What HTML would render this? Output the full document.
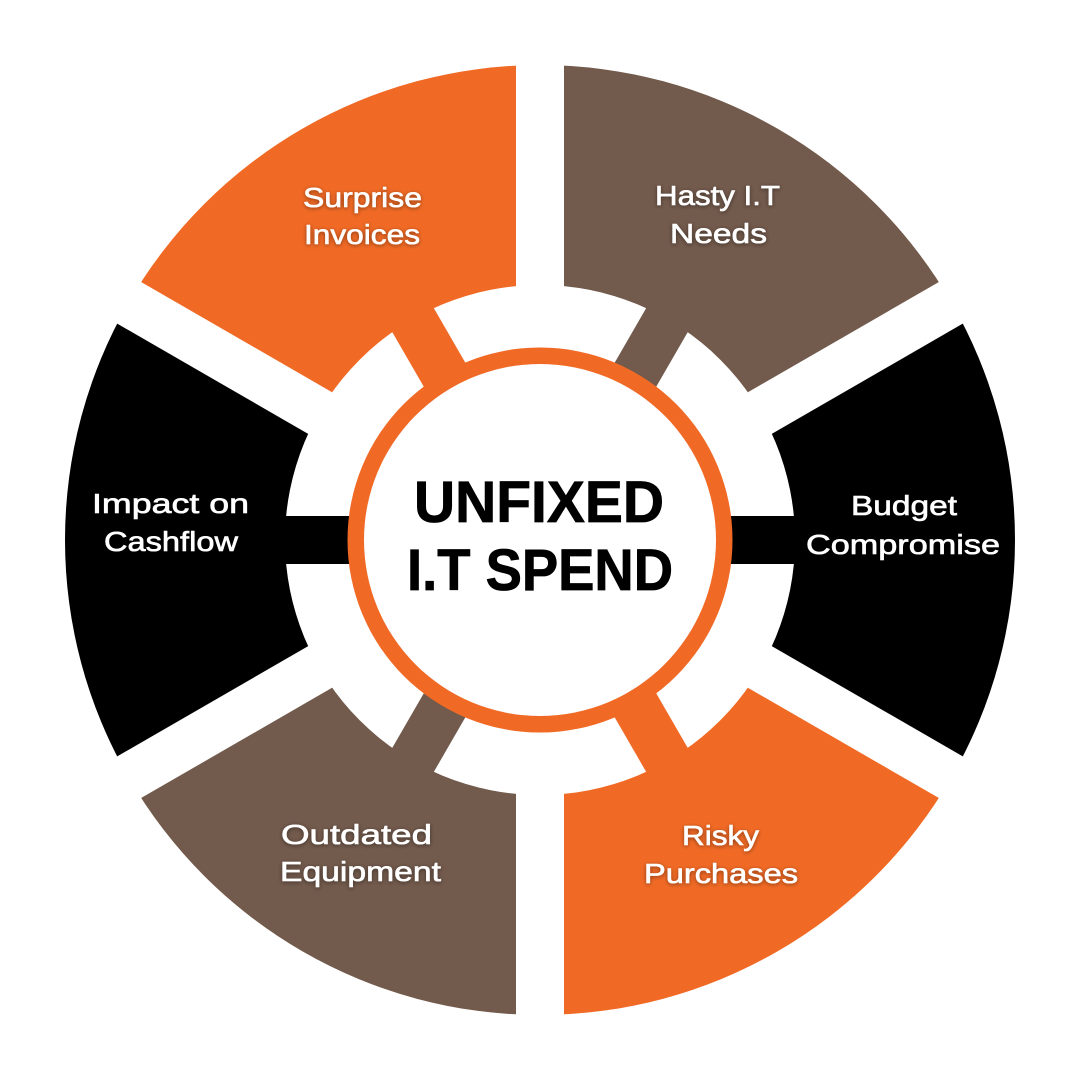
<!DOCTYPE html>
<html>
<head>
<meta charset="utf-8">
<style>
  html, body { margin: 0; padding: 0; background: #ffffff; }
  body { width: 1080px; height: 1080px; overflow: hidden; }
  svg { display: block; }
  .lbl { font-family: "Liberation Sans", "DejaVu Sans", sans-serif; font-size: 28px; fill: #ffffff; stroke: #ffffff; stroke-width: 0.6px; }
  .title { font-family: "Liberation Sans", "DejaVu Sans", sans-serif; font-size: 58px; font-weight: bold; fill: #000000; stroke: #000000; stroke-width: 0.8px; }
</style>
</head>
<body>
<svg width="1080" height="1080" viewBox="0 0 1080 1080" xmlns="http://www.w3.org/2000/svg">
  <defs>
    <filter id="sh" x="-20%" y="-40%" width="140%" height="180%">
      <feDropShadow dx="0" dy="1" stdDeviation="2" flood-color="#000000" flood-opacity="0.45"/>
    </filter>
  </defs>
  <rect width="1080" height="1080" fill="#ffffff"/>

  <!-- wedges -->
  <path d="M540,540 L540,65 A475,475 0 0,1 951.36,302.5 Z" fill="#725A4C"/>
  <path d="M540,540 L951.36,302.5 A475,475 0 0,1 951.36,777.5 Z" fill="#000000"/>
  <path d="M540,540 L951.36,777.5 A475,475 0 0,1 540,1015 Z" fill="#F16A25"/>
  <path d="M540,540 L540,1015 A475,475 0 0,1 128.64,777.5 Z" fill="#725A4C"/>
  <path d="M540,540 L128.64,777.5 A475,475 0 0,1 128.64,302.5 Z" fill="#000000"/>
  <path d="M540,540 L128.64,302.5 A475,475 0 0,1 540,65 Z" fill="#F16A25"/>

  <!-- white gap strips -->
  <g fill="#ffffff">
    <rect x="40" y="516" width="1000" height="48" transform="rotate(90 540 540)"/>
    <rect x="40" y="516" width="1000" height="48" transform="rotate(30 540 540)"/>
    <rect x="40" y="516" width="1000" height="48" transform="rotate(-30 540 540)"/>
  </g>

  <!-- inner white hole -->
  <circle cx="540" cy="540" r="255" fill="#ffffff"/>

  <!-- connector bars -->
  <rect x="278" y="516" width="524" height="48" fill="#000000"/>
  <rect x="278" y="516" width="524" height="48" fill="#725A4C" transform="rotate(-60 540 540)"/>
  <rect x="278" y="516" width="524" height="48" fill="#F16A25" transform="rotate(60 540 540)"/>

  <!-- center ring -->
  <circle cx="540" cy="540" r="192.5" fill="#F16A25"/>
  <circle cx="540" cy="540" r="176" fill="#ffffff"/>

  <!-- title -->
  <text class="title" x="539" y="522" text-anchor="middle" textLength="250" lengthAdjust="spacingAndGlyphs">UNFIXED</text>
  <text class="title" x="540" y="590" text-anchor="middle" textLength="266" lengthAdjust="spacingAndGlyphs">I.T SPEND</text>

  <!-- labels -->
  <g filter="url(#sh)">
    <text class="lbl" x="362.5" y="207" text-anchor="middle" textLength="119" lengthAdjust="spacingAndGlyphs">Surprise</text>
    <text class="lbl" x="362" y="244" text-anchor="middle" textLength="116" lengthAdjust="spacingAndGlyphs">Invoices</text>

    <text class="lbl" x="717.5" y="205" text-anchor="middle" textLength="125" lengthAdjust="spacingAndGlyphs">Hasty I.T</text>
    <text class="lbl" x="718.5" y="243" text-anchor="middle" textLength="97" lengthAdjust="spacingAndGlyphs">Needs</text>

    <text class="lbl" x="904" y="515" text-anchor="middle" textLength="106" lengthAdjust="spacingAndGlyphs">Budget</text>
    <text class="lbl" x="903" y="554" text-anchor="middle" textLength="194" lengthAdjust="spacingAndGlyphs">Compromise</text>

    <text class="lbl" x="720.5" y="845" text-anchor="middle" textLength="77" lengthAdjust="spacingAndGlyphs">Risky</text>
    <text class="lbl" x="721" y="883" text-anchor="middle" textLength="154" lengthAdjust="spacingAndGlyphs">Purchases</text>

    <text class="lbl" x="356.5" y="844" text-anchor="middle" textLength="151" lengthAdjust="spacingAndGlyphs">Outdated</text>
    <text class="lbl" x="360.5" y="881" text-anchor="middle" textLength="161" lengthAdjust="spacingAndGlyphs">Equipment</text>

    <text class="lbl" x="170.5" y="513" text-anchor="middle" textLength="157" lengthAdjust="spacingAndGlyphs">Impact on</text>
    <text class="lbl" x="171" y="551" text-anchor="middle" textLength="134" lengthAdjust="spacingAndGlyphs">Cashflow</text>
  </g>
</svg>
</body>
</html>
